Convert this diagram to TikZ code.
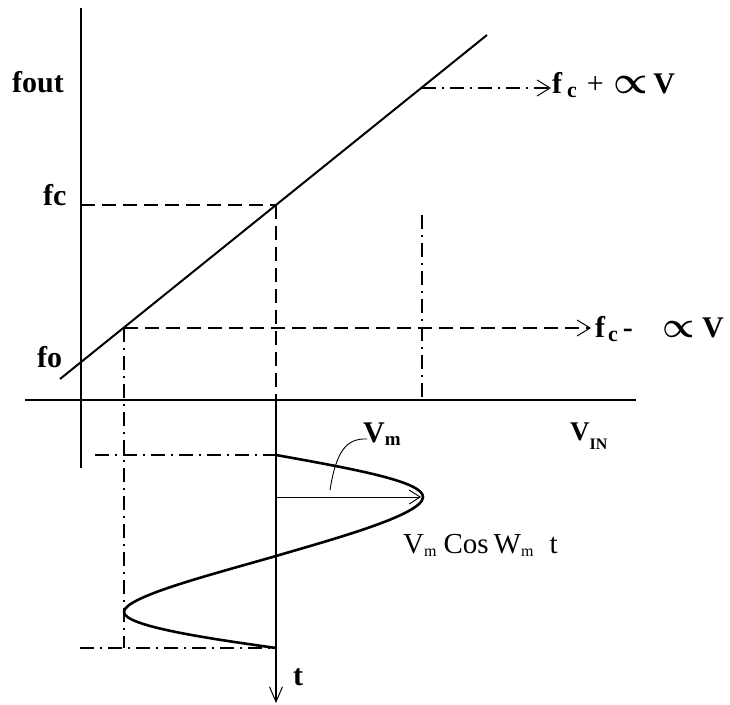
\documentclass[tikz,border=0pt]{standalone}
\usepackage{fontspec}
\setmainfont{Liberation Serif}
\usetikzlibrary{arrows.meta}
\begin{document}
\begin{tikzpicture}[x=1pt,y=-1pt,
  axis/.style={line width=1.3pt},
  graph/.style={line width=2pt},
  wave/.style={line width=2.6pt, line join=round},
  dashline/.style={line width=1.3pt, dash pattern=on 14pt off 7pt},
  dashdot/.style={line width=1.3pt, dash pattern=on 14pt off 6pt on 2pt off 6pt},
  openarrow/.style={-{Straight Barb[length=13pt,width=16pt,line width=1pt]}},
  lbl/.style={font=\fontsize{30}{36}\selectfont\bfseries, inner sep=0pt, anchor=base west},
  rlbl/.style={font=\fontsize{29}{34}\selectfont, inner sep=0pt, anchor=base west},
]
\useasboundingbox (0,0) rectangle (730,704);
% axes
\coordinate (yTop) at (81,8);
\coordinate (yBot) at (81,468);
\coordinate (xL) at (25,400);
\coordinate (xR) at (636,400);
\draw[axis] (yTop) -- (yBot);
\draw[axis] (xL) -- (xR);
% characteristic line
\coordinate (gA) at (60,379);
\coordinate (gB) at (487,35);
\draw[graph] (gA) -- (gB);
\coordinate (pLow) at (124,328);
\coordinate (pC) at (276,205);
\coordinate (pHigh) at (422,88);
\coordinate (fcAx) at (81,205);
\coordinate (cAx) at (276,400);
\coordinate (tEnd) at (276,703);
\coordinate (hiEnd) at (551,88);
\coordinate (loEnd) at (591,328);
\coordinate (lowBot) at (124,648);
\coordinate (hiV1) at (422,215);
\coordinate (hiV2) at (422,400);
\coordinate (topL) at (95,455);
\coordinate (topR) at (276,455);
\coordinate (botL) at (80,648);
\coordinate (botR) at (276,648);
\coordinate (peak) at (423,497);
\coordinate (peakAx) at (276,497);
\coordinate (peakTip) at (421,497);
\coordinate (zero) at (276,556);
\coordinate (trough) at (124,612);
% projection lines
\draw[dashline] (fcAx) -- (pC);
\draw[dashline] (pC) -- (cAx);
\draw[axis, -{Straight Barb[length=15pt,width=13pt,line width=1pt]}] (cAx) -- (tEnd);
\draw[dashdot, openarrow] (pHigh) -- (hiEnd);
\draw[dashline, openarrow] (pLow) -- (loEnd);
\draw[dashdot] (pLow) -- (lowBot);
\draw[dashdot] (hiV1) -- (hiV2);
\draw[dashdot] (topL) -- (topR);
\draw[dashdot] (botL) -- (botR);
% modulating wave
\draw[wave] (topR) .. controls (360,470) and (423,482) .. (peak)
  .. controls (423,515) and (330,540) .. (zero)
  .. controls (210,575) and (124,597) .. (trough)
  .. controls (124,627) and (220,640) .. (botR);
\draw[line width=1pt, -{Straight Barb[length=11pt,width=14pt,line width=0.9pt]}] (peakAx) -- (peakTip);
% leader for Vm
\coordinate (vmL) at (367,439);
\coordinate (vmE) at (330,490);
\draw[line width=0.9pt] (vmL) .. controls (346,438) and (336,452) .. (vmE);
% labels
\node[lbl] (fout) at (12,92) {fout};
\node[lbl] (fc) at (43,205) {fc};
\node[lbl] (fo) at (37,367) {fo};
\node[lbl] (plus) at (552,93) {f\hspace{5pt}\raisebox{-4pt}{\fontsize{22}{22}\selectfont c}\hspace{10pt}{\fontsize{30}{30}\selectfont\mdseries +}\hspace{10pt}\scalebox{1.55}{\boldmath$\propto$}\hspace{5pt}V};
\node[lbl] (minus) at (595,337) {f\hspace{3pt}\raisebox{-4pt}{\fontsize{22}{22}\selectfont c}\hspace{5pt}-\hspace{30pt}\scalebox{1.45}{\boldmath$\propto$}\hspace{7pt}V};
\node[lbl, font=\fontsize{27}{32}\selectfont\bfseries] (vin) at (570,440) {V\raisebox{-9pt}{\fontsize{16}{16}\selectfont IN}};
\node[lbl] (vm) at (363,442) {V\raisebox{-3pt}{\fontsize{19}{19}\selectfont m}};
\node[rlbl] (cosl) at (403,553) {V\raisebox{-3pt}{\fontsize{16}{16}\selectfont m}\hspace{7pt}Cos\hspace{5pt}W\raisebox{-3pt}{\fontsize{16}{16}\selectfont m}\hspace{16pt}t};
\node[lbl] (tl) at (293,685) {t};
\end{tikzpicture}
\end{document}
